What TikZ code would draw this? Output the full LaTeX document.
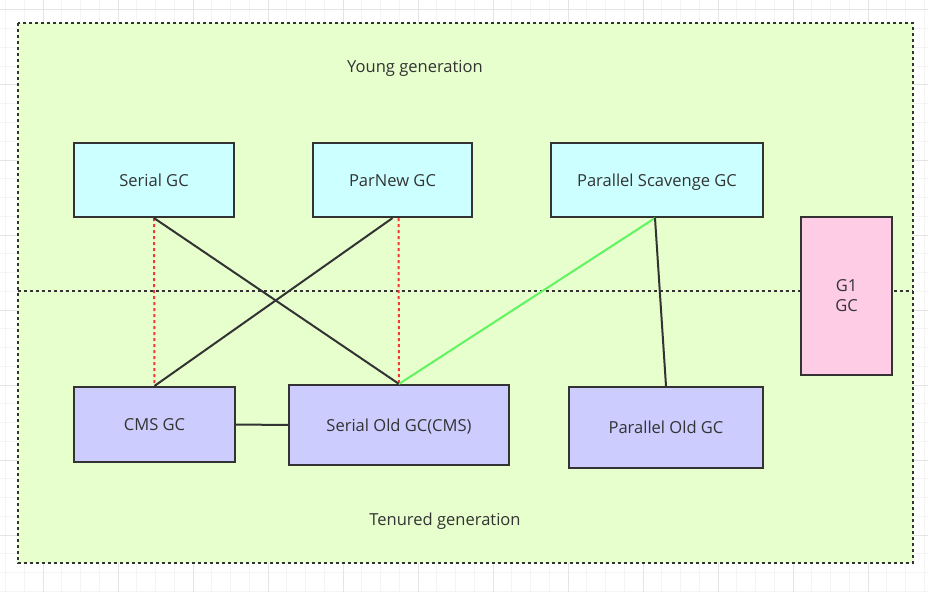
\documentclass[tikz,border=0pt]{standalone}
\usepackage{fontspec}
\setmainfont{Open Sans}
\begin{document}
\begin{tikzpicture}[x=0.75pt, y=-0.75pt, font=\fontsize{12.4}{15}\selectfont]
	
	% ==========================================
	% 1. COLOURS
	% ==========================================
	\definecolor{gridminor}{RGB}{244, 244, 244}   % faint grid
	\definecolor{gridmajor}{RGB}{228, 228, 228}   % stronger grid
	\definecolor{heapcol}{RGB}{230, 255, 204}     % green heap area
	\definecolor{youngcol}{RGB}{204, 255, 255}    % young collectors
	\definecolor{oldcol}{RGB}{204, 204, 255}      % old collectors
	\definecolor{g1col}{RGB}{255, 204, 230}       % G1 box
	\definecolor{linecol}{RGB}{51, 51, 51}        % outlines and text
	\definecolor{redcol}{RGB}{255, 51, 51}        % red dotted link
	\definecolor{greencol}{RGB}{96, 245, 96}      % green link
	
	% ==========================================
	% 2. STYLES
	% ==========================================
	\tikzset{
		gcbox/.style={draw=linecol, line width=1.6pt, text=linecol, align=center, inner sep=0pt},
		oneline/.style={text height=1.85ex, text depth=0.1ex},
		young/.style={gcbox, oneline, fill=youngcol, minimum height=55.5pt},
		old/.style={gcbox, oneline, fill=oldcol},
		link/.style={draw=linecol, line width=1.5pt},
		redlink/.style={draw=redcol, line width=1.5pt, dash pattern=on 2.25pt off 2.25pt},
		greenlink/.style={draw=greencol, line width=1.5pt},
		genlabel/.style={text=linecol}
	}
	
	\useasboundingbox (0,0) rectangle (928,592);
	
	% ==========================================
	% 3. BACKGROUND GRID
	% ==========================================
	\fill[white] (0,0) rectangle (928,592);
	\foreach \i in {0,...,49} {
		\draw[gridminor, line width=0.75pt] (5.5 + \i*18.75, 0) -- (5.5 + \i*18.75, 592);
	}
	\foreach \i in {0,...,31} {
		\draw[gridminor, line width=0.75pt] (0, 10 + \i*18.75) -- (928, 10 + \i*18.75);
	}
	\foreach \i in {0,...,12} {
		\draw[gridmajor, line width=0.75pt] (43 + \i*75, 0) -- (43 + \i*75, 592);
	}
	\foreach \i in {0,...,7} {
		\draw[gridmajor, line width=0.75pt] (0, 10 + \i*75) -- (928, 10 + \i*75);
	}
	
	% ==========================================
	% 4. HEAP AREA AND GENERATION SPLIT
	% ==========================================
	\fill[heapcol] (18,23) rectangle (913,563);
	\draw[linecol, line width=1.5pt, dash pattern=on 2pt off 2.5pt] (18,23) rectangle (913,563);
	\draw[linecol, line width=1.5pt, dash pattern=on 2pt off 2.5pt] (18,291) -- (913,291);
	
	\node[genlabel] (younglabel) at (415,68) {Young generation};
	\node[genlabel] (tenuredlabel) at (445,521) {Tenured generation};
	
	% ==========================================
	% 5. COLLECTORS
	% ==========================================
	% Young generation
	\node[young, minimum width=120pt] (serial) at (154,180) {Serial GC};
	\node[young, minimum width=119.25pt] (parnew) at (392.5,180) {ParNew GC};
	\node[young, minimum width=159pt] (scavenge) at (657,180) {Parallel Scavenge GC};
	
	% Tenured generation
	\node[old, minimum width=120.75pt, minimum height=56.25pt] (cms) at (154.5,424.5) {CMS GC};
	\node[old, minimum width=165pt, minimum height=60pt] (serialold) at (399,425) {Serial Old GC(CMS)};
	\node[old, minimum width=145.5pt, minimum height=60.75pt] (parold) at (666,427.5) {Parallel Old GC};
	
	% G1 spans both generations
	\node[gcbox, fill=g1col, minimum width=68.25pt, minimum height=118.5pt] (g1) at (846.5,296) {\raisebox{-2.5pt}{G1}\\ \raisebox{-2.5pt}{GC}};
	
	% ==========================================
	% 6. LINKS BETWEEN COLLECTORS
	% ==========================================
	\draw[redlink] (serial.south) -- (cms.north);
	\draw[redlink] ([xshift=4.5pt]parnew.south) -- (serialold.north);
	\draw[link] (serial.south) -- (serialold.north);
	\draw[link] (parnew.south) -- (cms.north);
	\draw[greenlink] ([xshift=-1.5pt]scavenge.south) -- (serialold.north);
	\draw[link] ([xshift=-1.5pt]scavenge.south) -- (parold.north);
	\draw[link] (cms.east) -- (serialold.west);
	
\end{tikzpicture}
\end{document}
